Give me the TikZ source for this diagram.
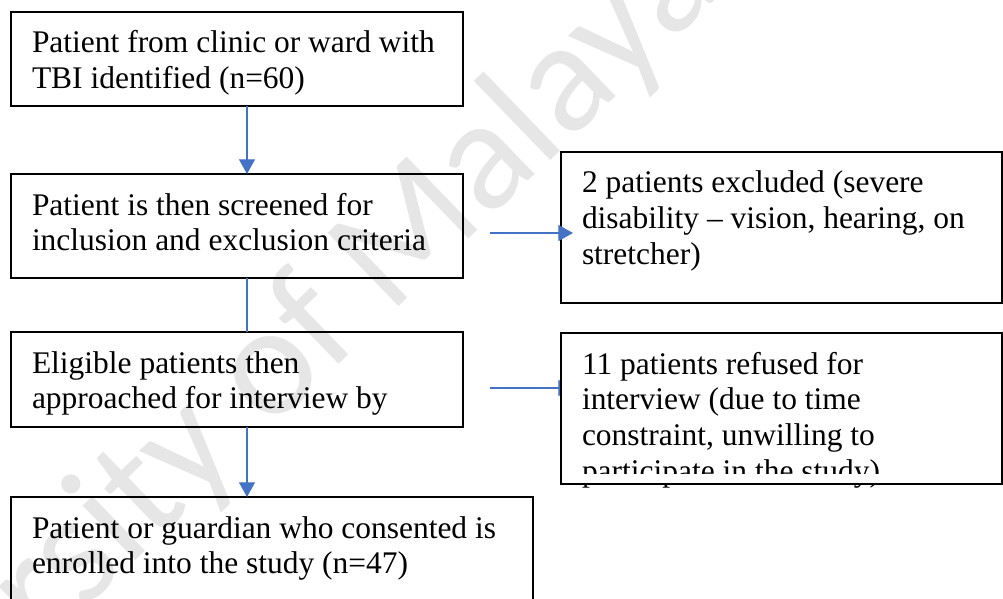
\documentclass[tikz,border=0pt]{standalone}
\usepackage{fontspec}
\setmainfont{Liberation Serif}
\newfontfamily\markfont{Carlito}
\usetikzlibrary{arrows.meta,calc}
\definecolor{ArrowClr}{RGB}{68,114,196}
\definecolor{MarkClr}{RGB}{230,230,230}
\pgfdeclarelayer{background}
\pgfsetlayers{background,main}

\tikzset{
  stage/.style={draw=black,line width=1.5pt,rectangle,anchor=north west,
    outer sep=0pt,inner xsep=15.75pt,inner ysep=0pt,text height=30.75pt,
    align=flush left,font=\fontsize{23.6}{26.8}\selectfont},
  link/.style={draw=ArrowClr,line width=0.9pt},
  flow/.style={link,-{Triangle[length=11pt,width=12pt]}}
}

\begin{document}
\begin{tikzpicture}[x=0.75pt,y=-0.75pt]
\useasboundingbox (0,0) rectangle (1003,599);

% watermark
\node[font=\markfont\fontsize{119}{119}\selectfont,text=MarkClr,rotate=44,
  anchor=base west,inner sep=0pt] (mark) at (-222,906) {University of Malaya};

% main column
\node[stage,text width=410*0.75pt,text depth=53*0.75pt] (identified) at (11,12)
  {Patient from clinic or ward with\\TBI identified (n=60)};
\node[stage,text width=410*0.75pt,text depth=63*0.75pt] (screened) at (11,174)
  {Patient is then screened for\\inclusion and exclusion criteria};
\node[stage,text width=410*0.75pt,text depth=54*0.75pt] (approached) at (11,332)
  {Eligible patients then\\approached for interview by};
\node[stage,text width=480*0.75pt,text depth=69*0.75pt] (enrolled) at (11,497)
  {Patient or guardian who consented is\\enrolled into the study (n=47)};

% side boxes
\node[stage,text width=399*0.75pt,text depth=110*0.75pt] (excluded) at (561,152)
  {2 patients excluded (severe\\disability -- vision, hearing, on\\stretcher)};
\node[stage,fill=white,text width=399*0.75pt,text depth=110*0.75pt] (refused) at (561,333)
  {11 patients refused for\\interview (due to time\\constraint, unwilling to\\participate in the study)};
\fill[white] ($(refused.south west)+(1.5,-1.2)$) rectangle ($(refused.south east)+(-1.5,-10)$);

\coordinate (spine) at (247,0);
\coordinate (outA) at (490,233);
\coordinate (outB) at (490,388);

\draw[flow] (identified.south -| spine) -- (screened.north -| spine);
\draw[link] (screened.south -| spine) -- (approached.north -| spine);
\draw[flow] (approached.south -| spine) -- (enrolled.north -| spine);
\draw[flow] (outA) -- ($(outA -| excluded.west)+(12,0)$);
\begin{pgfonlayer}{background}
\draw[flow] (outB) -- ($(outB -| refused.west)+(12,0)$);
\end{pgfonlayer}

\end{tikzpicture}
\end{document}
